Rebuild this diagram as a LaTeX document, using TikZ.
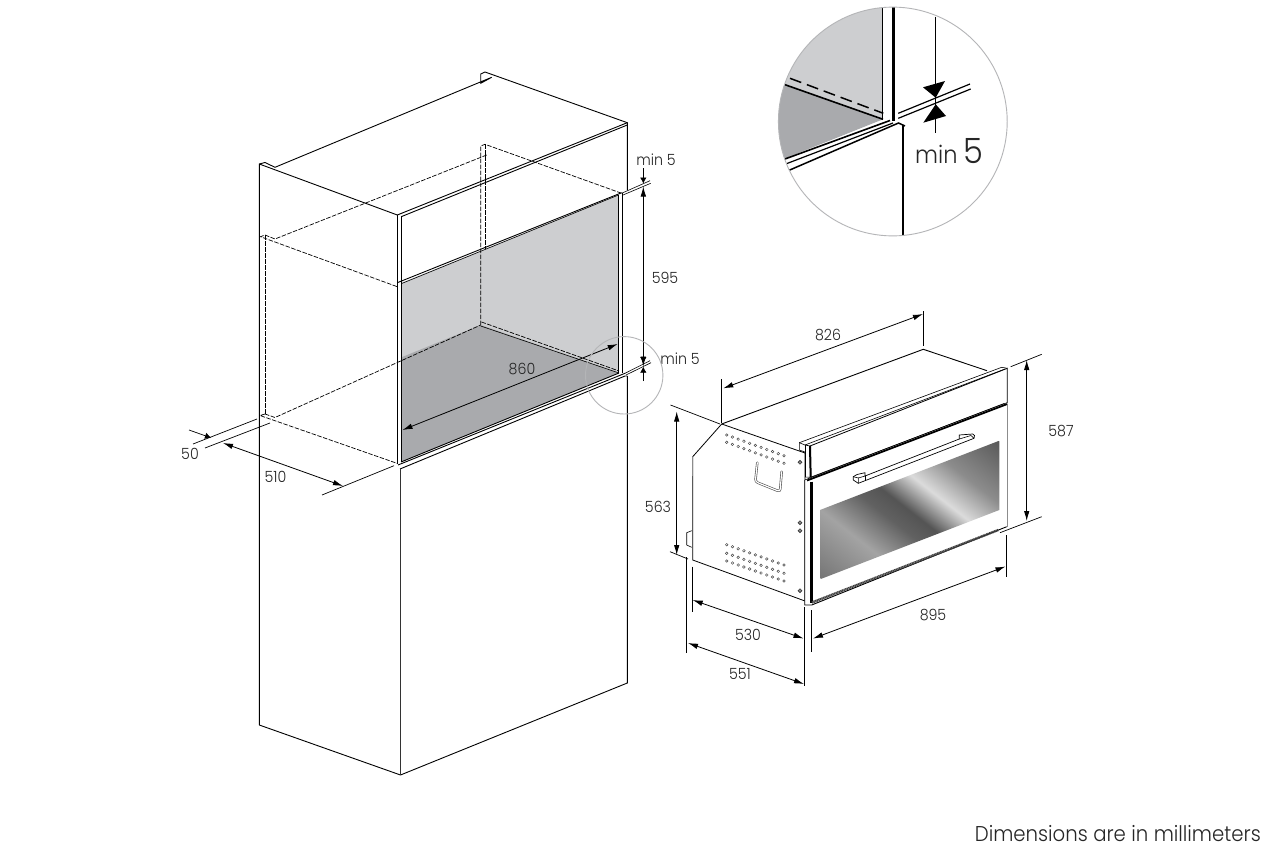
\documentclass[tikz,border=0pt]{standalone}
\usepackage{xcolor}
\usepackage{fontspec}
\setmainfont[FakeStretch=0.92]{Poppins Light}
\usepackage{tikz}
\usetikzlibrary{arrows.meta}
\usetikzlibrary{positioning}
\definecolor{wallgray}{HTML}{CDCED0}
\definecolor{floorgray}{HTML}{A9AAAD}
\definecolor{ringgray}{HTML}{B4B5B7}
\definecolor{glassa}{gray}{0.46}
\definecolor{glassb}{gray}{0.64}
\definecolor{glassc}{gray}{0.38}
\definecolor{glassd}{gray}{0.33}
\definecolor{glasse}{gray}{0.86}
\definecolor{glassf}{gray}{0.55}
\definecolor{glassg}{gray}{0.35}
\pgfdeclarehorizontalshading{glassshade}{100bp}{color(0bp)=(glassa); color(25bp)=(glassa); color(37.4bp)=(glassb); color(45.6bp)=(glassc); color(49.8bp)=(glassd); color(56.4bp)=(glasse); color(63.8bp)=(glassf); color(75bp)=(glassg); color(100bp)=(glassg)}
\tikzset{
  cabline/.style={line width=0.9bp, black},
  dashline/.style={line width=0.7bp, black, dash pattern=on 4.5bp off 1.5bp},
  thinline/.style={line width=0.6bp, black},
  extline/.style={line width=0.7bp, black},
  dimline/.style={line width=0.8bp, black, {Latex[length=10bp,width=5.5bp]}-{Latex[length=10bp,width=5.5bp]}},
  mintip/.style={line width=0.7bp, black, -{Latex[length=6bp,width=6.5bp]}},
  dimlabel/.style={font=\fontsize{15.5}{15.5}\selectfont, inner sep=0pt, text=black!85},
  ring/.style={draw=ringgray, line width=0.9bp},
  hole/.style={draw=black!70, line width=0.5bp},
}
\begin{document}
\begin{tikzpicture}[x=1bp, y=-1bp]
\useasboundingbox (0,0) rectangle (1264,858);
\fill[white] (0,0) rectangle (1264,858);

\fill[wallgray] (401,283) -- (618.5,195) -- (618.5,373) -- (401,462) -- cycle;
\fill[floorgray] (401,357.5) -- (480.7,325) -- (619,373) -- (401,462) -- cycle;

\draw[cabline] (259.3,725) -- (259.3,164) -- (265,162.5) -- (275,167.3) -- (491.7,77.3) -- (480.7,83.3) -- (480.7,74) -- (485,72) -- (627.3,122.7) -- (627.3,190);
\draw[cabline] (259.3,164) -- (397.3,215);
\draw[cabline] (397.3,215) -- (627.3,122.7);
\draw[cabline] (401.7,216.5) -- (627.3,125);
\draw[cabline] (397.3,215) -- (397.3,464);
\draw[cabline] (401.7,216) -- (401.7,462);
\draw[cabline] (618.5,195) -- (618.5,373);
\draw[cabline] (622.3,193) -- (622.3,373);
\draw[cabline] (397.3,282.7) -- (621.7,192.7);
\draw[thinline] (401.7,283.5) -- (618.5,195);
\draw[thinline] (622.3,193) -- (650,180.7);
\draw[thinline] (623,195) -- (650.7,183.3);

\draw[cabline] (401,462) -- (619,373);
\draw[cabline] (398,465) -- (625,373.3);
\draw[cabline] (400,469) -- (625,376) -- (627.3,376);
\draw[thinline] (625,373.3) -- (650,360.7);
\draw[thinline] (626,375) -- (651,362.7);
\draw[cabline] (627.3,376) -- (627.3,683) -- (400.5,775) -- (259.3,725);
\draw[line width=1.1bp, black!80] (400.5,469) -- (400.5,775);
\draw[thinline] (480.7,326) -- (619,373);

\draw[dashline] (480.7,325) -- (480.7,146) -- (485,144.3) -- (621.7,193.3);
\draw[dashline] (485,144.3) -- (485,249);
\draw[dashline] (486.7,155) -- (275,239) -- (265,235) -- (260.5,236.7) -- (397.3,286.7);
\draw[dashline] (265,235) -- (265,414);
\draw[dashline] (265,414) -- (260,415.5) -- (397,463.3);
\draw[dashline] (265,414) -- (275,417.5) -- (480.7,325);
\draw[dashline] (481.5,322) -- (619,371);

\coordinate (exta1) at (193,444);
\coordinate (exta2) at (257,419);
\coordinate (extb1) at (205,448);
\coordinate (extb2) at (270,423);
\coordinate (extc1) at (322,495);
\coordinate (extc2) at (394,465.7);
\draw[extline] (exta1) -- (exta2);
\draw[extline] (extb1) -- (extb2);
\draw[extline] (extc1) -- (extc2);
\coordinate (fiftya) at (189,430);
\coordinate (fiftyb) at (211,437.8);
\coordinate (fivetena) at (223,443);
\coordinate (fivetenb) at (343,486);
\draw[mintip] (fiftya) -- (fiftyb);
\draw[dimline] (fivetena) -- (fivetenb);
\node[dimlabel] (fifty) at (190,454) {50};
\node[dimlabel] (fiveten) at (275.5,476.5) {510};

\coordinate (widea) at (402.5,430);
\coordinate (wideb) at (617.7,344);
\draw[dimline] (widea) -- (wideb);
\node[dimlabel] (wide) at (522,369) {860};

\coordinate (higha) at (643.3,186.5);
\coordinate (highb) at (643.3,366.5);
\draw[dimline] (higha) -- (highb);
\node[dimlabel] (high) at (665,278) {595};
\coordinate (mintopa) at (643.3,168);
\coordinate (mintopb) at (643.3,183.5);
\draw[mintip] (mintopa) -- (mintopb);
\node[dimlabel] (mintop) at (656,160) {min 5};
\coordinate (minlowa) at (643.3,350);
\coordinate (minlowb) at (643.3,363);
\draw[mintip] (minlowa) -- (minlowb);
\coordinate (minlowc) at (643.3,381);
\coordinate (minlowd) at (643.3,366.7);
\draw[mintip] (minlowc) -- (minlowd);
\node[dimlabel] (minlow) at (680,358.5) {min 5};

\node[ring, circle, minimum size=77.4bp, inner sep=0pt] (smallring) at (624.2,375.3) {};

\begin{scope}
\clip (892.8,121.5) circle (114.4bp);
\fill[wallgray] (770,80) -- (882.7,119) -- (882.7,0) -- (770,0) -- cycle;
\fill[floorgray] (770,79.4) -- (883,119.3) -- (770,164.4) -- cycle;
\draw[line width=1.3bp] (882.7,0) -- (882.7,119);
\draw[line width=3bp] (893.3,0) -- (893.3,121);
\draw[line width=2.2bp] (903.3,125) -- (903.3,240);
\draw[line width=1.6bp] (770,79.4) -- (883,119.3);
\draw[line width=1.5bp, dash pattern=on 12bp off 6bp] (790,78.3) -- (883.3,113.3);
\draw[line width=1.6bp] (780,160.8) -- (890,120.5);
\draw[line width=1.2bp] (782,165.4) -- (893,123);
\draw[line width=1.5bp] (784,172.5) -- (898.5,123) -- (905,126);
\end{scope}
\draw[line width=1.2bp] (898.3,113.3) -- (970,84);
\draw[line width=1.2bp] (898.3,118.3) -- (970.7,89);
\draw[line width=1bp] (935.7,16.7) -- (935.7,132.7);
\fill[black] (923,87.3) -- (945,81) -- (935.7,97.7) -- cycle;
\fill[black] (923.3,122.7) -- (946,116) -- (935.7,104.3) -- cycle;
\node[ring, circle, minimum size=228.8bp, inner sep=0pt] (bigring) at (892.8,121.5) {};
\node[anchor=base west, inner sep=0pt, text=black!85] (bigmin) at (915,163.3) {\fontsize{24.5}{24.5}\selectfont min \fontsize{35}{35}\selectfont 5};

\fill[white, draw=black, line width=0.8bp] (721.7,424) -- (692.7,456.7) -- (692.7,560) -- (805,601) -- (805,453) -- cycle;
\draw[line width=1bp, black!45] (692.7,456.7) -- (692.7,476);
\draw[cabline] (721.7,424) -- (923.3,349.3) -- (987,370.7);
\draw[thinline] (686.7,545) -- (686.7,532.7) -- (691.7,530.7);
\draw[thinline] (686.7,545) -- (691.7,547.3);

\foreach \ya/\yb in {435/455.7, 442.3/463.3, 544.7/565, 553.3/573.3, 561/581}{
  \foreach \i in {0,...,10}{
    \draw[hole] ({726.7+\i*5.73},{\ya+\i*(\yb-\ya)/10}) circle (1.3bp);
  }
}
\foreach \ys in {462.3, 522.7, 530.7, 590.7}{
  \filldraw[draw=black!80, fill=black!45, line width=0.6bp] (800,\ys) circle (1.9bp);
}

\draw[line width=2.4bp, black!70, line cap=round, rounded corners=2.5bp] (757.3,462.7) -- (755.3,481.7) -- (780,491.7) -- (781.7,471.7);
\draw[line width=1.2bp, white, line cap=round, rounded corners=2.5bp] (757.3,462.7) -- (755.3,481.7) -- (780,491.7) -- (781.7,471.7);

\fill[white, draw=black, line width=0.8bp] (810,446) -- (1007.3,368.3) -- (1007.3,402.7) -- (810.7,477.3) -- cycle;
\draw[thinline] (799.3,450) -- (799.3,442.7) -- (1001.7,367.3) -- (1007.3,368.3);
\draw[thinline] (799.3,442.7) -- (805,445) -- (1005,369);
\draw[thinline] (799.3,450) -- (805,452);
\draw[cabline] (805,445) -- (805,477);
\draw[line width=2bp] (810,446) -- (810.7,477.3);
\draw[thinline] (805,445) -- (810,446);
\draw[thinline] (805,477) -- (810.7,477.3);

\fill[white] (804.7,480) -- (1007.3,403) -- (1007.3,526.7) -- (811.7,605) -- (804.7,605) -- cycle;
\draw[line width=1.8bp] (807,480.5) -- (1007.3,404);
\draw[thinline] (804.7,480) -- (1004,403.5);
\draw[cabline] (804.7,480) -- (804.7,605) -- (811.7,605) -- (1006.7,526.7);
\draw[line width=1.3bp, black!45] (1007.3,405) -- (1007.3,526.7);
\draw[line width=3bp] (811,481.5) -- (811,603);
\draw[line width=2.4bp, black!75, dash pattern=on 1.2bp off 0.5bp] (812,602.5) -- (998.3,530);

\begin{scope}
\clip (820,510) -- (999.3,440.7) -- (999.3,510) -- (820,579.3) -- cycle;
\begin{scope}[transform canvas={rotate around={52:(910,510)}}]
\shade[shading=glassshade] (801,390) rectangle (1019,630);
\end{scope}
\end{scope}

\fill[white, draw=black, line width=0.7bp] (853.3,476.7) -- (853.3,480) -- (858.3,483.3) -- (974,438.3) -- (974.5,435.5) -- (972.7,434) -- (959.3,435) -- (959.3,439) -- (865,476) -- (865,472.7) -- (857,474.5) -- cycle;
\draw[thinline] (858.3,483.3) -- (858.3,478) -- (853.3,476.7);
\draw[thinline] (858.3,478) -- (865,476);
\draw[thinline] (865,476) -- (865,480);
\draw[thinline] (959.3,439) -- (971,435.5) -- (974,438.3);

\coordinate (sidetopa) at (721.7,379);
\coordinate (sidetopb) at (721.7,423);
\coordinate (backtopa) at (923,311);
\coordinate (backtopb) at (923,346);
\draw[extline] (sidetopa) -- (sidetopb);
\draw[extline] (backtopa) -- (backtopb);
\coordinate (depthtopa) at (723.3,388.3);
\coordinate (depthtopb) at (923,314);
\draw[dimline] (depthtopa) -- (depthtopb);
\node[dimlabel] (depthtop) at (828,335) {826};

\coordinate (ovlefta) at (670.5,405);
\coordinate (ovleftb) at (720,424);
\coordinate (ovleftc) at (670,551.7);
\coordinate (ovleftd) at (688,559);
\draw[extline] (ovlefta) -- (ovleftb);
\draw[extline] (ovleftc) -- (ovleftd);
\coordinate (heightlefta) at (676.7,411.5);
\coordinate (heightleftb) at (676.7,555);
\draw[dimline] (heightlefta) -- (heightleftb);
\node[dimlabel] (heightleft) at (658,507) {563};

\coordinate (sidelowa) at (692.7,566.7);
\coordinate (sidelowb) at (692.7,611.7);
\coordinate (sidelowc) at (804.7,607);
\coordinate (sidelowd) at (804.7,686);
\coordinate (sidelowe) at (686.7,557);
\coordinate (sidelowf) at (686.7,653);
\draw[extline] (sidelowa) -- (sidelowb);
\draw[extline] (sidelowc) -- (sidelowd);
\draw[extline] (sidelowe) -- (sidelowf);
\coordinate (depthina) at (692.7,600);
\coordinate (depthinb) at (803.5,638.5);
\draw[dimline] (depthina) -- (depthinb);
\node[dimlabel] (depthin) at (748,635) {530};
\coordinate (deptha) at (688,643);
\coordinate (depthb) at (804,684);
\draw[dimline] (deptha) -- (depthb);
\node[dimlabel] (depth) at (740,674) {551};

\coordinate (fronta) at (811,610);
\coordinate (frontb) at (811,652);
\coordinate (frontc) at (1006.7,535);
\coordinate (frontd) at (1006.7,577);
\draw[extline] (fronta) -- (frontb);
\draw[extline] (frontc) -- (frontd);
\coordinate (widtha) at (813,638.5);
\coordinate (widthb) at (1005.5,566.5);
\draw[dimline] (widtha) -- (widthb);
\node[dimlabel] (width) at (933,615) {895};

\coordinate (righta) at (1010.7,366.7);
\coordinate (rightb) at (1041.7,354.3);
\coordinate (rightc) at (1000,532.7);
\coordinate (rightd) at (1041.7,516.7);
\draw[extline] (righta) -- (rightb);
\draw[extline] (rightc) -- (rightd);
\coordinate (heighta) at (1026.7,360);
\coordinate (heightb) at (1026.7,521);
\draw[dimline] (heighta) -- (heightb);
\node[dimlabel] (height) at (1061,431) {587};

\node[anchor=base east, inner sep=0pt, text=black!85, font=\fontsize{21.5}{21.5}\selectfont] (note) at (1261,841) {Dimensions are in millimeters};
\end{tikzpicture}
\end{document}
